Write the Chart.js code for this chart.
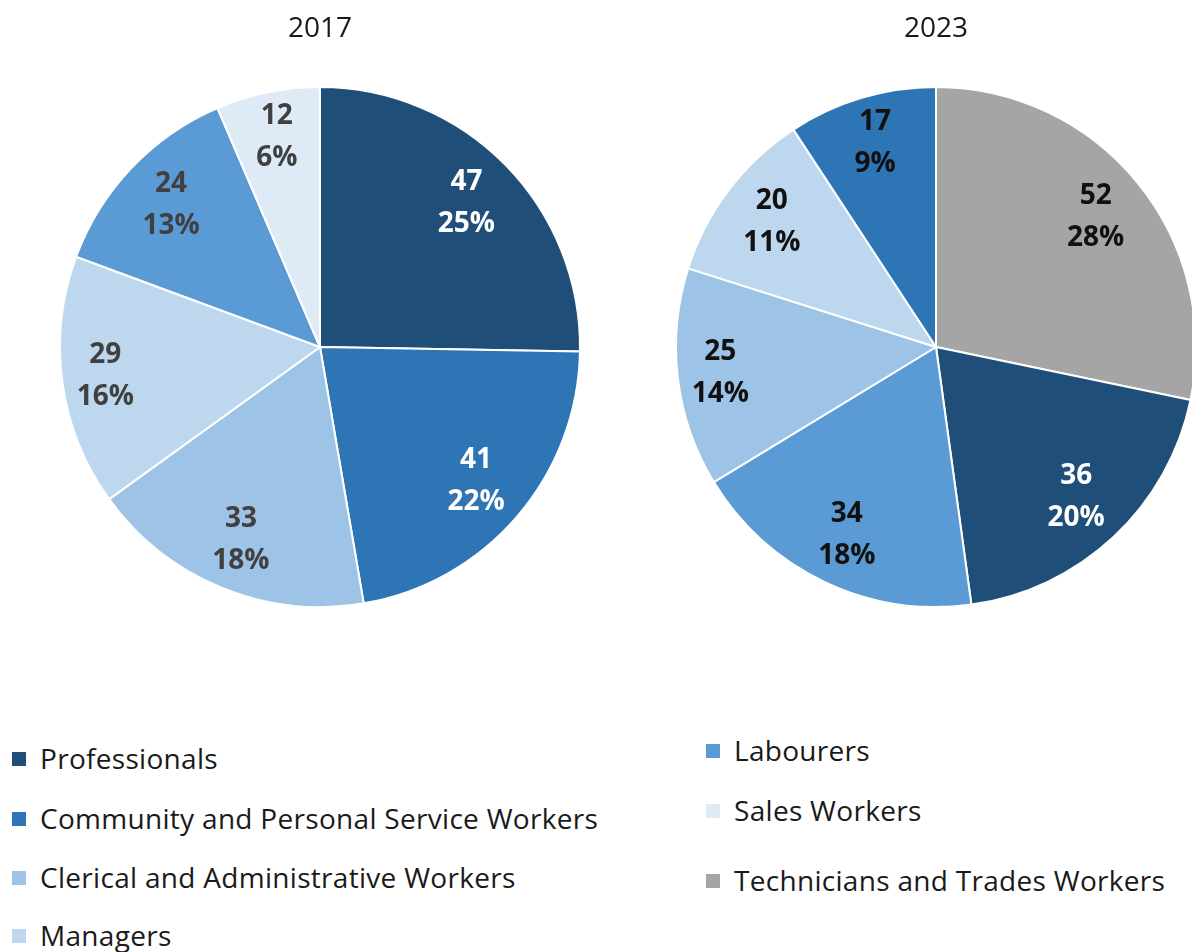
<!DOCTYPE html>
<html>
<head>
<meta charset="utf-8">
<script src="https://cdn.jsdelivr.net/npm/chart.js@4.4.1/dist/chart.umd.min.js"></script>
<style>
  html, body { margin: 0; padding: 0; background: #fff; overflow: hidden; }
  #wrap { position: relative; width: 1192px; height: 952px; overflow: hidden; }
  canvas { position: absolute; top: 0; }
  #pie2017 { left: 0; }
  #pie2023 { left: 616px; }
  .legend { position: absolute; font-family: "Open Sans", sans-serif; font-size: 28px; letter-spacing: 0.3px; color: #1a1a1a; }
  .legend div { position: absolute; white-space: nowrap; line-height: 34px; }
  .legend span.box { position: absolute; width: 14px; height: 14px; top: 11px; }
  .legend span.txt { position: absolute; left: 28px; top: 0; }
</style>
</head>
<body>
<div id="wrap">
  <canvas id="pie2017" width="640" height="608"></canvas>
  <canvas id="pie2023" width="640" height="608"></canvas>
  <div class="legend" id="legendLeft" style="left:12px; top:0;"></div>
  <div class="legend" id="legendRight" style="left:706px; top:0;"></div>
</div>
<script>
// occupation groups, in legend order
var categories = [
    'Professionals',
    'Community and Personal Service Workers',
    'Clerical and Administrative Workers',
    'Managers',
    'Labourers',
    'Sales Workers',
    'Technicians and Trades Workers'
];

var labels2017 = ['Professionals', 'Community and Personal Service Workers', 'Clerical and Administrative Workers',
    'Managers', 'Labourers', 'Sales Workers'];
var values2017 = [47, 41, 33, 29, 24, 12];

var labels2023 = ['Technicians and Trades Workers', 'Professionals', 'Labourers',
    'Clerical and Administrative Workers', 'Managers', 'Community and Personal Service Workers'];
var values2023 = [52, 36, 34, 25, 20, 17];

var palette = {
    'Professionals': '#1F4E79',
    'Community and Personal Service Workers': '#2E75B6',
    'Clerical and Administrative Workers': '#9DC3E6',
    'Managers': '#BDD7EE',
    'Labourers': '#5B9BD5',
    'Sales Workers': '#DEEBF7',
    'Technicians and Trades Workers': '#A5A5A5'
};

// value + percent labels, placed just inside the rim of each slice
var sliceLabels = {
    id: 'sliceLabels',
    afterDatasetsDraw: function (chart, args, opts) {
        var ctx = chart.ctx;
        var ds = chart.data.datasets[0];
        var total = ds.data.reduce(function (a, b) { return a + b; }, 0);
        var meta = chart.getDatasetMeta(0);
        ctx.save();
        ctx.font = 'bold 28px "Open Sans", sans-serif';
        ctx.textAlign = 'center';
        ctx.textBaseline = 'middle';
        meta.data.forEach(function (arc, i) {
            var v = ds.data[i];
            var line1 = String(v);
            var line2 = Math.round(v / total * 100) + '%';
            var mid = (arc.startAngle + arc.endAngle) / 2;
            var w = Math.max(ctx.measureText(line1).width, ctx.measureText(line2).width);
            var hw = w / 2 + 6, hh = 37;
            var ext = hw * Math.abs(Math.cos(mid)) + hh * Math.abs(Math.sin(mid));
            var r = arc.outerRadius - 4 - ext;
            var x = arc.x + Math.cos(mid) * r;
            var y = arc.y + Math.sin(mid) * r;
            ctx.fillStyle = opts.colors[i];
            ctx.fillText(line1, x, y - 21);
            ctx.fillText(line2, x, y + 21);
        });
        ctx.restore();
    }
};

function MakePie(id, year, labels, values, labelColors) {
    return new Chart(document.getElementById(id), {
        type: 'pie',
        data: {
            labels: labels,
            datasets: [{
                data: values,
                backgroundColor: labels.map(function (l) { return palette[l]; }),
                borderColor: '#ffffff',
                borderWidth: 2
            }]
        },
        options: {
            responsive: false,
            animation: false,
            layout: { padding: 0 },
            plugins: {
                legend: { display: false },
                tooltip: { enabled: false },
                title: {
                    display: true,
                    text: year,
                    color: '#1a1a1a',
                    font: { family: '"Open Sans", sans-serif', size: 28, weight: 'normal', lineHeight: 1.2 },
                    padding: { top: 12, bottom: 40.4 }
                },
                sliceLabels: { colors: labelColors }
            }
        },
        plugins: [sliceLabels]
    });
}

MakePie('pie2017', '2017', labels2017, values2017,
    ['#ffffff', '#ffffff', '#404040', '#404040', '#404040', '#404040']);
MakePie('pie2023', '2023', labels2023, values2023,
    ['#111111', '#ffffff', '#111111', '#111111', '#111111', '#111111']);

// two-column legend under the pies
function BuildLegend(elId, items, rowsY) {
    var el = document.getElementById(elId);
    items.forEach(function (name, i) {
        var row = document.createElement('div');
        row.style.top = (rowsY[i] - 17) + 'px';
        row.innerHTML = '<span class="box" style="background:' + palette[name] + '"></span>' +
            '<span class="txt">' + name + '</span>';
        el.appendChild(row);
    });
}

BuildLegend('legendLeft', categories.slice(0, 4), [758, 818, 877, 935]);
BuildLegend('legendRight', categories.slice(4), [750, 810, 880]);
</script>
</body>
</html>
